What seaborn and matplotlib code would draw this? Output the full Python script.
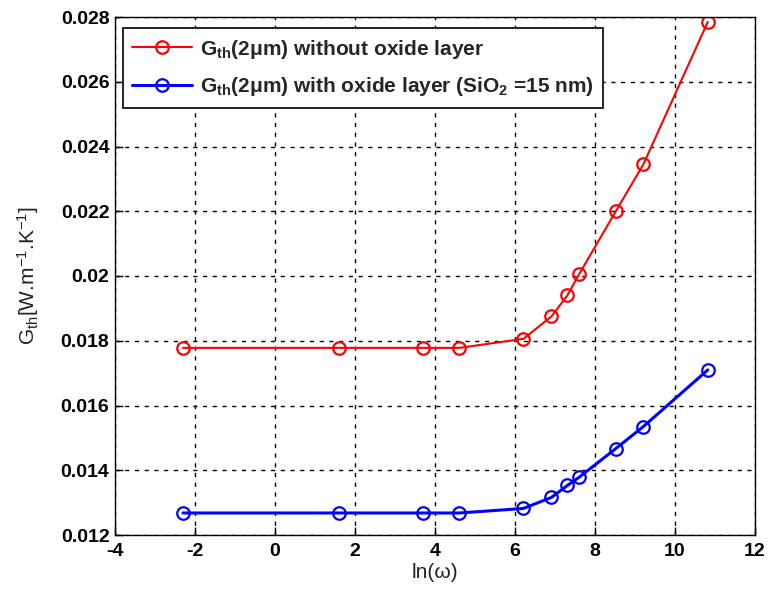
import matplotlib
matplotlib.use("Agg")
import matplotlib.pyplot as plt
import seaborn as sns
import pandas as pd

# ln(omega) sample points
ln_omega = [-2.30, 1.61, 3.69, 4.61, 6.21, 6.91, 7.31, 7.60, 8.52, 9.21, 10.82]
# thermal conductance without oxide layer
gth_no_oxide = [0.01778, 0.01778, 0.01778, 0.01778, 0.01806, 0.01875, 0.01940,
                0.02005, 0.02200, 0.02345, 0.02785]
# thermal conductance with 15 nm SiO2 layer
gth_oxide = [0.01268, 0.01268, 0.01268, 0.01268, 0.01282, 0.01316, 0.01353,
             0.01378, 0.01467, 0.01535, 0.01710]

series_labels = [r"G$_{\mathbf{th}}$(2μm) without oxide layer",
                 r"G$_{\mathbf{th}}$(2μm) with oxide layer (SiO$_{\mathbf{2}}$ =15 nm)"]
xticks = [-4, -2, 0, 2, 4, 6, 8, 10, 12]
yticks = [0.012, 0.014, 0.016, 0.018, 0.020, 0.022, 0.024, 0.026, 0.028]
ytick_labels = ["0.012", "0.014", "0.016", "0.018", "0.02", "0.022", "0.024", "0.026", "0.028"]

sns.set_theme(style="white")
plt.rcParams["font.family"] = ["Liberation Sans", "DejaVu Sans"]
plt.rcParams["mathtext.fontset"] = "custom"
plt.rcParams["mathtext.rm"] = "Liberation Sans"
plt.rcParams["mathtext.bf"] = "Liberation Sans:bold"
plt.rcParams["mathtext.it"] = "Liberation Sans:italic"

df = pd.concat([
    pd.DataFrame({"x": ln_omega, "y": gth_no_oxide, "s": series_labels[0]}),
    pd.DataFrame({"x": ln_omega, "y": gth_oxide, "s": series_labels[1]}),
])

fig = plt.figure(figsize=(7.73, 5.98), dpi=100)
# axes box: left 115px, right 755px, top 17px, bottom 535px
ax = fig.add_axes([115 / 773, 1 - 535 / 598, 640 / 773, 518 / 598])

styles = {series_labels[0]: ("#ff0000", 1.5), series_labels[1]: ("#0000ff", 2.2)}
for lab in series_labels:
    col, lw = styles[lab]
    sub = df[df["s"] == lab]
    sns.lineplot(data=sub, x="x", y="y", ax=ax, color=col, linewidth=lw,
                 marker="o", markersize=9, markerfacecolor="none",
                 markeredgecolor=col, markeredgewidth=1.6, label=lab,
                 sort=False, errorbar=None)

ax.set_xlim(-4, 12)
ax.set_ylim(0.012, 0.028)
ax.set_xticks(xticks)
ax.set_xticklabels([str(t) for t in xticks])
ax.set_yticks(yticks)
ax.set_yticklabels(ytick_labels)
for lbl in ax.get_xticklabels() + ax.get_yticklabels():
    lbl.set_fontweight("bold")
    lbl.set_fontsize(14)
    lbl.set_color("black")

ax.tick_params(direction="in", length=6, width=1, colors="black",
               top=False, right=False, bottom=True, left=True)
ax.tick_params(axis="x", pad=6)
ax.tick_params(axis="y", pad=4)
ax.grid(True, color="black", linestyle=(0, (3, 4)), linewidth=1)
for sp in ax.spines.values():
    sp.set_color("black")
    sp.set_linewidth(1)

ax.set_xlabel("ln(ω)", fontsize=15, color="#222222", labelpad=2)
ax.set_ylabel(r"G$_{\mathrm{th}}$[W.m$^{-1}$.K$^{-1}$]", fontsize=15,
              color="#222222", labelpad=14)

leg = ax.legend(loc="upper left", bbox_to_anchor=(0.012, 0.978),
                prop={"weight": "bold", "size": 15}, frameon=True, fancybox=False,
                edgecolor="black", framealpha=1, handlelength=2.9,
                borderpad=0.45, labelspacing=0.7, handletextpad=0.35,
                borderaxespad=0)
leg.get_frame().set_linewidth(1.2)

fig.savefig("out.png", dpi=100, facecolor="white")
